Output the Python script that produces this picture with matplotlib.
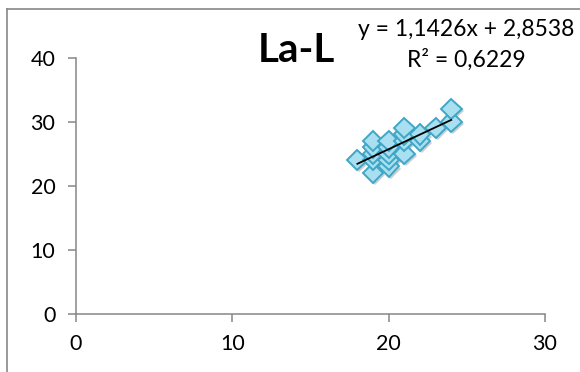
import matplotlib
matplotlib.use("Agg")
import matplotlib.pyplot as plt
import matplotlib.patheffects as pe
from matplotlib.lines import Line2D
import numpy as np

# Data
x_vals = [18, 19, 19, 19, 19, 19, 20, 20, 20, 20, 20, 21, 21, 21, 21, 22, 22, 23, 24, 24]
y_vals = [24, 22, 24, 25, 26, 27, 23, 24, 25, 26, 27, 25, 27, 28, 29, 27, 28, 29, 30, 32]
slope = 1.1426
intercept = 2.8538
title_text = "La-L"
eq_text = "y = 1,1426x + 2,8538\nR² = 0,6229"
x_ticks = [0, 10, 20, 30]
y_ticks = [0, 10, 20, 30, 40]

plt.rcParams['font.family'] = ['Lato', 'DejaVu Sans']

fig = plt.figure(figsize=(5.8, 3.72), dpi=100)
ax = fig.add_axes([76 / 580, (372 - 313.7) / 372, (545 - 76) / 580, (313.7 - 57.7) / 372])

ax.plot(x_vals, y_vals, linestyle='none', marker='D', markersize=10.5,
        markerfacecolor='#a8dff1', markeredgecolor='#3fa6c6', markeredgewidth=1.4,
        path_effects=[pe.SimplePatchShadow(offset=(1.5, -1.5), alpha=0.25), pe.Normal()],
        zorder=3)

xl = np.array([min(x_vals), max(x_vals)])
ax.plot(xl, slope * xl + intercept, color='black', linewidth=1.3, zorder=4)

ax.set_xlim(0, 30)
ax.set_ylim(0, 40)
ax.set_xticks(x_ticks)
ax.set_yticks(y_ticks)
for s in ['top', 'right']:
    ax.spines[s].set_visible(False)
for s in ['left', 'bottom']:
    ax.spines[s].set_color('#868686')
    ax.spines[s].set_linewidth(1.1)
ax.tick_params(axis='both', direction='out', length=5.8, width=1.1, color='#868686',
               labelsize=15.5, labelcolor='black', pad=9)

ax.text(296, 372 - 50, title_text, transform=None, fontsize=29, fontweight='bold',
        ha='center', va='center')
fig.text(466 / 580, 1 - 45 / 372, eq_text, fontsize=16.5, ha='center', va='center',
         linespacing=1.45, multialignment='center')

# Chart area border (left and top visible)
fig.add_artist(Line2D([7 / 580, 7 / 580], [0, 1 - 8.5 / 372], transform=fig.transFigure,
                      color='#888888', linewidth=1.2))
fig.add_artist(Line2D([7 / 580, 1], [1 - 8.5 / 372, 1 - 8.5 / 372], transform=fig.transFigure,
                      color='#888888', linewidth=1.2))

fig.savefig("out.png", dpi=100)
